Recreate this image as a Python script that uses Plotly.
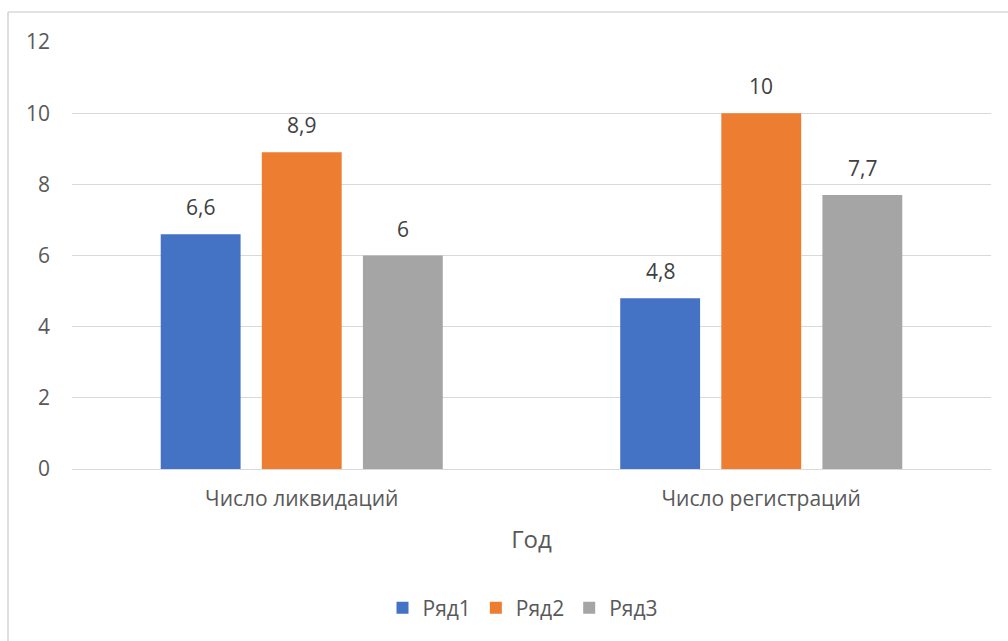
import plotly.graph_objects as go

# Chart data
categories = ["Число ликвидаций", "Число регистраций"]
series_names = ["Ряд1", "Ряд2", "Ряд3"]
row1 = [6.6, 4.8]
row2 = [8.9, 10]
row3 = [6, 7.7]
series_values = [row1, row2, row3]
series_colors = ["#4472C4", "#ED7D31", "#A5A5A5"]
y_ticks = [0, 2, 4, 6, 8, 10, 12]

W, H = 1008, 641
M_L, M_R, M_T, M_B = 72, 17, 42, 172
BARGAP = 0.34
BARGROUPGAP = 0.21
FONT = "Open Sans"
FS = 21

fig = go.Figure()
for name, vals, color in zip(series_names, series_values, series_colors):
    fig.add_trace(go.Bar(
        x=categories, y=vals, name=name,
        marker=dict(color=color, line=dict(width=0)),
        hoverinfo="skip",
    ))

# value labels above each bar, shifted to the bar's slot inside its group
plot_w = W - M_L - M_R
slot_px = plot_w / len(categories) * (1 - BARGAP) / len(series_names)
for i, vals in enumerate(series_values):
    for cat, v in zip(categories, vals):
        fig.add_annotation(
            x=cat, y=v, xref="x", yref="y",
            text=f"{v:g}".replace(".", ","),
            showarrow=False, yanchor="bottom",
            xshift=(i - (len(series_names) - 1) / 2) * slot_px,
            yshift=11,
            font=dict(family=FONT, size=FS, color="#404040"),
        )

# light frame lines on the left and top of the chart area
plot_h = H - M_T - M_B
frame_x = (8 - M_L) / plot_w
frame_y = (H - M_B - 12) / plot_h
frame_color = "#D9D9D9"
fig.add_shape(type="line", xref="paper", yref="paper",
              x0=frame_x, x1=frame_x, y0=frame_y, y1=-2,
              line=dict(color=frame_color, width=1.7))
fig.add_shape(type="line", xref="paper", yref="paper",
              x0=frame_x, x1=2, y0=frame_y, y1=frame_y,
              line=dict(color=frame_color, width=1.7))

fig.update_layout(
    width=W, height=H,
    margin=dict(l=M_L, r=M_R, t=M_T, b=M_B, autoexpand=False),
    paper_bgcolor="white", plot_bgcolor="white",
    barmode="group", bargap=BARGAP, bargroupgap=BARGROUPGAP,
    font=dict(family=FONT, size=FS, color="#595959"),
    showlegend=True,
    legend=dict(orientation="h", x=(523 - M_L) / plot_w, xanchor="center",
                y=(H - M_B - 608) / plot_h, yanchor="middle",
                font=dict(family=FONT, size=FS, color="#595959"),
                itemwidth=30, tracegroupgap=0),
    xaxis=dict(
        showgrid=False, zeroline=False, showline=False, ticks="",
        ticklabelstandoff=15,
        title=dict(text="Год", font=dict(family=FONT, size=24, color="#595959"),
                   standoff=20),
        automargin=False,
    ),
    yaxis=dict(
        range=[0, 12], tickvals=y_ticks, showgrid=True,
        gridcolor="#D9D9D9", gridwidth=1.3,
        zeroline=True, zerolinecolor="#D9D9D9", zerolinewidth=1.3,
        showline=False, ticks="", ticklabelstandoff=21,
        automargin=False,
    ),
)

fig.write_html("out.html")
